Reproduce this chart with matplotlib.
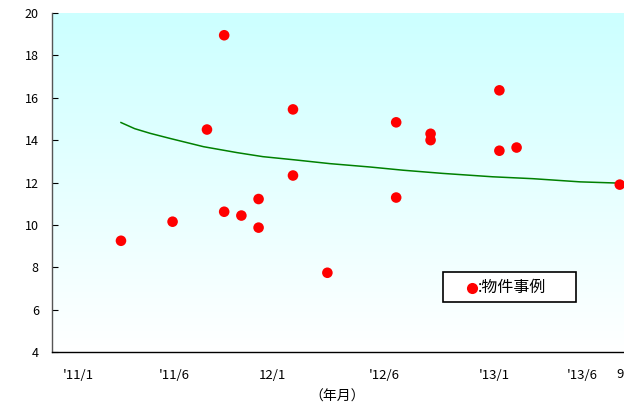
import numpy as np
import matplotlib
matplotlib.use('Agg')
import matplotlib.pyplot as plt
from matplotlib.colors import LinearSegmentedColormap
from matplotlib.patches import Rectangle

plt.rcParams['font.family'] = ['Noto Sans CJK JP', 'DejaVu Sans']

# 物件事例 (経過月数: 2011/1 = 0)
jirei_tsuki = [3, 6, 8, 9, 9, 10, 11, 11, 13, 13, 15, 19, 19, 21, 21, 25, 25, 26, 32]
jirei_chi = [9.25, 10.15, 14.5, 18.95, 10.62, 10.44, 11.22, 9.87, 15.45, 12.33,
             7.74, 14.84, 11.29, 14.3, 14.0, 16.35, 13.5, 13.65, 11.9]

# 推移線
sen_tsuki = [3.0, 3.8, 4.7, 5.85, 7.8, 9.75, 11.25, 13.2, 15.15, 17.5, 19.4,
             21.7, 24.6, 26.95, 29.7, 32.0, 33.0]
sen_chi = [14.83, 14.54, 14.32, 14.08, 13.69, 13.41, 13.22, 13.06, 12.89, 12.73,
           12.58, 12.43, 12.27, 12.18, 12.03, 11.97, 11.93]

# 軸ラベル
x_ichi = [0.5, 6.1, 11.8, 18.3, 24.7, 29.8]
x_labels = ["'11/1", "'11/6", "12/1", "'12/6", "'13/1", "'13/6"]
y_ticks = [4, 6, 8, 10, 12, 14, 16, 18, 20]

fig = plt.figure(figsize=(6.24, 4.05), dpi=100)
ax = fig.add_axes([52 / 624, 53 / 405, (632 - 52) / 624, (352 - 13) / 405])

# 背景グラデーション（上: 水色 → 下: 白）
cmap = LinearSegmentedColormap.from_list('haikei', ['#ffffff', '#ccffff'])
grad = np.linspace(0, 1, 256).reshape(-1, 1)
ax.imshow(grad, extent=[0, 1, 0, 1], transform=ax.transAxes, origin='lower',
          aspect='auto', cmap=cmap, zorder=0)

ax.plot(sen_tsuki, sen_chi, color='#008000', linewidth=1.1, zorder=2)
ax.scatter(jirei_tsuki, jirei_chi, s=58, color='#ff0000', edgecolors='none', zorder=3)

ax.set_xlim(-1.01, 32.71)
ax.set_ylim(4, 20)

ax.set_yticks(y_ticks)
ax.tick_params(axis='y', direction='in', length=4, width=0.8, pad=9.5,
               labelsize=9, colors='black')
ax.set_xticks(x_ichi)
ax.set_xticklabels(x_labels)
ax.tick_params(axis='x', length=0, pad=12, labelsize=9.5)
fig.text(616 / 624, 1 - 375 / 405, '9', fontsize=9.5, ha='left', va='center')

for s in ['top', 'right']:
    ax.spines[s].set_visible(False)
ax.spines['left'].set_color('#555555')
ax.spines['left'].set_linewidth(1.0)
ax.spines['bottom'].set_linewidth(1.0)

fig.text(337 / 624, 1 - 397 / 405, '（年月）', fontsize=10, ha='center', va='center')

# 凡例（枠・マーカー・文字）
fig.patches.append(Rectangle((443 / 624, 1 - 302 / 405), 133 / 624, 30 / 405,
                             transform=fig.transFigure, facecolor='white',
                             edgecolor='black', linewidth=1.2, zorder=5))
fig.lines.append(plt.Line2D([472 / 624], [1 - 288 / 405], transform=fig.transFigure,
                            linestyle='none', marker='o', markersize=8,
                            markerfacecolor='#ff0000', markeredgecolor='none', zorder=6))
fig.text(478 / 624, 1 - 287 / 405, ':物件事例', fontsize=11.5, ha='left', va='center',
         zorder=6)

fig.savefig('out.png', dpi=100)
